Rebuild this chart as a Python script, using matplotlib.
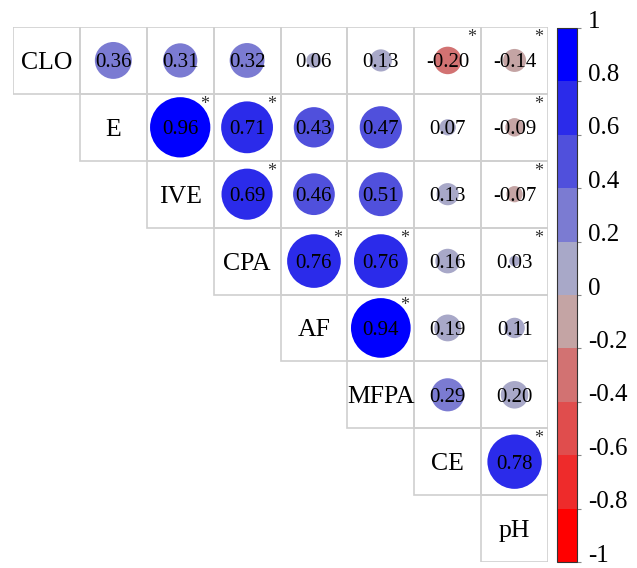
import matplotlib
matplotlib.use("Agg")
import matplotlib.pyplot as plt
import numpy as np
from matplotlib.patches import Circle, Rectangle
from matplotlib.colors import ListedColormap, BoundaryNorm
from matplotlib.cm import ScalarMappable

plt.rcParams['font.family'] = ['Liberation Serif', 'DejaVu Serif']

labels = ['CLO', 'E', 'IVE', 'CPA', 'AF', 'MFPA', 'CE', 'pH']

# upper triangle, row by row (values right of the diagonal)
r_clo = [0.36, 0.31, 0.32, 0.06, 0.13, -0.20, -0.14]
r_e = [0.96, 0.71, 0.43, 0.47, 0.07, -0.09]
r_ive = [0.69, 0.46, 0.51, 0.13, -0.07]
r_cpa = [0.76, 0.76, 0.16, 0.03]
r_af = [0.94, 0.19, 0.11]
r_mfpa = [0.29, 0.20]
r_ce = [0.78]
rows = [r_clo, r_e, r_ive, r_cpa, r_af, r_mfpa, r_ce]

# significance stars, same layout
s_clo = [0, 0, 0, 0, 0, 1, 1]
s_e = [1, 1, 0, 0, 0, 1]
s_ive = [1, 0, 0, 0, 1]
s_cpa = [1, 1, 0, 1]
s_af = [1, 0, 0]
s_mfpa = [0, 0]
s_ce = [1]
stars = [s_clo, s_e, s_ive, s_cpa, s_af, s_mfpa, s_ce]

bounds = np.round(np.arange(-1, 1.01, 0.2), 1)
colors = ['#FF0000', '#EE2B2B', '#E04D4D', '#D27272', '#C4A4A4',
          '#A8A8C8', '#7B7BD2', '#5050DC', '#2B2BEA', '#0000FF']
cmap = ListedColormap(colors)
norm = BoundaryNorm(bounds, cmap.N)

fig = plt.figure(figsize=(6.37, 5.68), dpi=100)
ax = fig.add_axes([13/637, 6/568, 535/637, 535/568])
n = len(labels)
ax.set_xlim(0, n)
ax.set_ylim(n, 0)
ax.axis('off')

grid_c = '#cfcfcf'
for i in range(n):
    # diagonal label cell
    ax.add_patch(Rectangle((i, i), 1, 1, fill=False, ec=grid_c, lw=1.2))
    ax.text(i + 0.5, i + 0.5, labels[i], ha='center', va='center_baseline', fontsize=18.5)
    if i == n - 1:
        continue
    for k, v in enumerate(rows[i]):
        j = i + 1 + k
        ax.add_patch(Rectangle((j, i), 1, 1, fill=False, ec=grid_c, lw=1.2))
        idx = int(np.clip(np.digitize(v, bounds, right=True) - 1, 0, 9))
        rad = 0.46 * np.sqrt(abs(v))
        ax.add_patch(Circle((j + 0.5, i + 0.5), rad, fc=colors[idx], ec='none', zorder=2))
        ax.text(j + 0.5, i + 0.5, f'{v:.2f}', ha='center', va='center_baseline', fontsize=15, zorder=3)
        if stars[i][k]:
            ax.text(j + 0.86, i + 0.16, '*', ha='center', va='center', fontsize=13, color='#333333', zorder=3)

# colorbar
cax = fig.add_axes([557/637, 6/568, 20/637, 534/568])
cb = fig.colorbar(ScalarMappable(norm=norm, cmap=cmap), cax=cax, ticks=bounds)
cb.outline.set_edgecolor('#333333')
cb.outline.set_linewidth(0.8)
cax.tick_params(axis='y', direction='out', length=3, color='#888888', labelright=False)
for b in bounds:
    txt = '0' if b == 0 else f'{b:g}'
    cax.text(1.55, (b + 1) / 2 + 0.012, txt, transform=cax.transAxes,
             ha='left', va='center', fontsize=18)

fig.savefig('out.png', dpi=100)
